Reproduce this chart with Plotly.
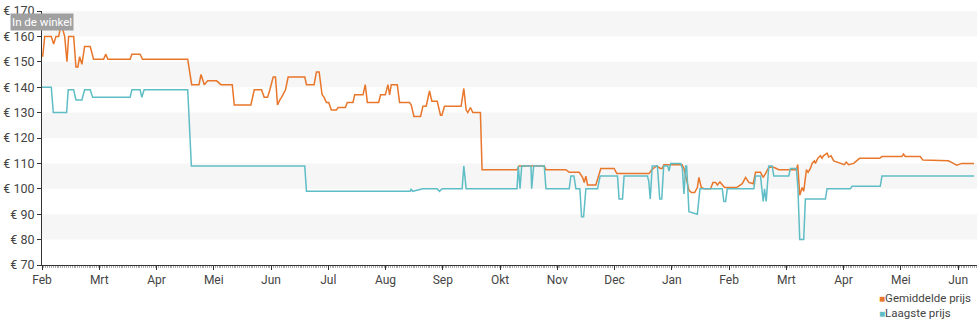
import plotly.graph_objects as go

# Month labels for the x axis (position 0 = first February)
month_labels = ["Feb", "Mrt", "Apr", "Mei", "Jun", "Jul", "Aug", "Sep", "Okt",
                "Nov", "Dec", "Jan", "Feb", "Mrt", "Apr", "Mei", "Jun"]
month_pos = list(range(len(month_labels)))

# Gemiddelde prijs: time (months since the first Feb) and price in euro
avg_month = [
    0.012, 0.047, 0.162, 0.204, 0.244, 0.291, 0.336, 0.366, 0.396, 0.436,
    0.465, 0.553, 0.593, 0.627, 0.657, 0.697, 0.744, 0.842, 0.901, 1.075,
    1.115, 1.150, 1.539, 1.569, 1.713, 1.755, 2.545, 2.614, 2.742, 2.777,
    2.835, 2.893, 3.05, 3.125, 3.323, 3.358, 3.648, 3.707, 3.834, 3.881,
    3.939, 3.98, 4.038, 4.078, 4.113, 4.154, 4.183, 4.253, 4.299, 4.59,
    4.619, 4.752, 4.793, 4.84, 4.892, 4.927, 4.967, 5.008, 5.054, 5.142,
    5.171, 5.298, 5.333, 5.432, 5.461, 5.606, 5.646, 5.682, 5.879, 5.914,
    5.996, 6.042, 6.071, 6.1, 6.205, 6.245, 6.419, 6.449, 6.496, 6.611,
    6.653, 6.71, 6.768, 6.809, 6.902, 6.96, 6.984, 7.03, 7.32, 7.367,
    7.408, 7.437, 7.483, 7.524, 7.657, 7.686, 8.296, 8.331, 8.772, 8.802,
    9.15, 9.208, 9.382, 9.441, 9.47, 9.499, 9.528, 9.673, 9.713, 9.76,
    9.992, 10.039, 10.602, 10.649, 10.736, 10.80, 10.83, 10.86, 11.18, 11.212,
    11.242, 11.299, 11.341, 11.399, 11.446, 11.473, 11.515, 11.561, 11.678, 11.718,
    11.765, 11.795, 11.84, 11.881, 11.922, 12.131, 12.23, 12.288, 12.345, 12.422,
    12.462, 12.549, 12.596, 12.636, 12.694, 12.781, 12.868, 13.176, 13.199, 13.234,
    13.276, 13.303, 13.351, 13.38, 13.42, 13.45, 13.49, 13.508, 13.548, 13.595,
    13.624, 13.647, 13.712, 13.739, 13.781, 13.827, 13.973, 14.013, 14.048, 14.088,
    14.176, 14.235, 14.28, 14.629, 14.67, 15.018, 15.046, 15.076, 15.338, 15.385,
    15.831, 15.918, 15.977, 16.064, 16.279,
]
avg_price = [
    152, 160, 160, 157, 160, 160, 165, 162, 160, 150,
    160, 160, 148, 148, 152, 149, 156, 156, 151, 151,
    153, 151, 151, 153, 153, 151, 151, 141, 141, 145,
    141, 142.5, 142.5, 141, 141, 133, 133, 139, 139, 136,
    136, 139, 144, 144, 133, 135, 136, 139, 144, 144,
    141, 141, 146, 146, 137, 136, 134, 134, 131, 131,
    132, 132, 134, 134, 137, 137, 141, 134, 134, 137,
    137, 141, 137, 141, 141, 134, 134, 133, 128.5, 128.5,
    132.5, 132.5, 138.5, 134.5, 134.5, 129, 129, 132.5, 132.5, 139.5,
    131, 130, 132, 130, 130, 107.5, 107.5, 109, 109, 107.5,
    107.5, 106.5, 106.5, 104.5, 102.5, 105, 101.5, 101.5, 105, 108,
    108, 106, 106, 107.5, 109, 108, 108, 109.5, 109.5, 108,
    105, 99.5, 98.5, 98.5, 100.5, 104.5, 100.5, 100, 100, 102.5,
    102.5, 101.5, 102.7, 101.5, 100.5, 100.5, 102, 104.5, 102.5, 102,
    106.5, 106.5, 104.5, 106, 108.5, 108.5, 107.5, 107.5, 109.5, 97.5,
    100.5, 99, 107.5, 106.5, 108, 110, 111, 110, 112, 113,
    112, 113, 114, 112.5, 113, 111, 110, 109.5, 110.5, 109.5,
    110, 111, 112, 112, 112.7, 112.7, 113.7, 112.7, 112.7, 111.3,
    111, 110, 109.3, 110, 110,
]

# Laagste prijs
low_month = [
    0, 0.162, 0.197, 0.430, 0.458, 0.553, 0.593, 0.697, 0.744, 0.842,
    0.884, 1.539, 1.569, 1.713, 1.743, 1.783, 2.545, 2.609, 4.589, 4.619,
    6.43, 6.449, 6.47, 6.653, 6.902, 6.942, 6.989, 7.338, 7.367, 7.408,
    8.296, 8.319, 8.349, 8.378, 8.54, 8.552, 8.587, 8.772, 8.802, 9.208,
    9.237, 9.29, 9.325, 9.394, 9.424, 9.459, 9.499, 9.703, 9.748, 10.051,
    10.079, 10.139, 10.166, 10.574, 10.597, 10.623, 10.658, 10.748, 10.789, 10.824,
    10.858, 10.928, 10.951, 10.98, 11.155, 11.184, 11.212, 11.242, 11.259, 11.299,
    11.446, 11.491, 11.881, 11.909, 11.939, 11.969, 12.432, 12.462, 12.549, 12.596,
    12.619, 12.648, 12.694, 12.753, 12.781, 13.042, 13.072, 13.176, 13.203, 13.234,
    13.303, 13.333, 13.682, 13.712, 14.118, 14.147, 14.64, 14.67, 16.279,
]
low_price = [
    140, 140, 130, 130, 139, 139, 135, 135, 139, 139,
    136, 136, 139, 139, 136, 139, 139, 109, 109, 99,
    99, 100, 99, 100, 100, 99, 100, 100, 109, 100,
    100, 109, 100, 109, 109, 100, 109, 109, 100, 100,
    105, 105, 100, 100, 89, 89, 100, 100, 105, 105,
    96, 96, 105, 105, 103, 96, 109, 109, 96, 96,
    109, 109, 107, 110, 110, 108, 98, 109, 109, 91,
    90, 100, 100, 95, 95, 100, 100, 105, 105, 95,
    100, 95, 109, 109, 105, 105, 108, 108, 100, 80,
    80, 96, 96, 100, 100, 101, 101, 105, 105,
]

assert len(avg_month) == len(avg_price)
assert len(low_month) == len(low_price)

ORANGE = "#e8762b"
TEAL = "#5fbdc6"
FONT = "Roboto, 'Open Sans', sans-serif"

fig = go.Figure()
fig.add_trace(go.Scatter(x=avg_month, y=avg_price, mode="lines", name="Gemiddelde prijs",
                         line=dict(color=ORANGE, width=1.5), showlegend=False))
fig.add_trace(go.Scatter(x=low_month, y=low_price, mode="lines", name="Laagste prijs",
                         line=dict(color=TEAL, width=1.5), showlegend=False))

# alternating horizontal bands
for lo in (80, 100, 120, 140, 160):
    fig.add_shape(type="rect", xref="paper", yref="y", x0=0, x1=1, y0=lo, y1=lo + 10,
                  fillcolor="#f6f6f6", line=dict(width=0), layer="below")

fig.update_layout(
    width=980, height=325,
    margin=dict(l=40, r=3, t=10, b=60),
    paper_bgcolor="white", plot_bgcolor="white",
    font=dict(family=FONT, size=12, color="#444"),
    xaxis=dict(
        range=[0, 16.33], tickmode="array", tickvals=month_pos, ticktext=month_labels,
        showgrid=False, zeroline=False, showline=True, linecolor="#333", linewidth=1,
        ticks="outside", ticklen=4, tickcolor="#333", tickfont=dict(size=12, color="#444"),
        minor=dict(tickmode="linear", tick0=0, dtick=1 / 30.4, ticks="outside",
                   ticklen=2, tickcolor="#aaa", showgrid=False),
    ),
    yaxis=dict(
        range=[70, 170], tickmode="linear", tick0=70, dtick=10, tickprefix="€ ",
        showgrid=False, zeroline=False, showline=True, linecolor="#333", linewidth=1,
        ticks="outside", ticklen=4, tickcolor="#333", tickfont=dict(size=12.5, color="#444"),
    ),
)

fig.add_annotation(
    xref="paper", yref="paper", x=-0.0342, y=0.992, xanchor="left", yanchor="top",
    text="In de winkel", showarrow=False, bgcolor="#a0a0a0", borderpad=1,
    font=dict(family=FONT, size=11.5, color="white"),
)

fig.add_annotation(
    xref="paper", yref="paper", x=1, y=-0.095, xanchor="right", yanchor="top", xshift=-4,
    align="left", showarrow=False,
    text=(f"<span style='color:{ORANGE};font-size:10px'>■</span>Gemiddelde prijs<br>"
          f"<span style='color:{TEAL};font-size:10px'>■</span>Laagste prijs"),
    font=dict(family=FONT, size=11.5, color="#444"),
)

fig.write_html("out.html")
